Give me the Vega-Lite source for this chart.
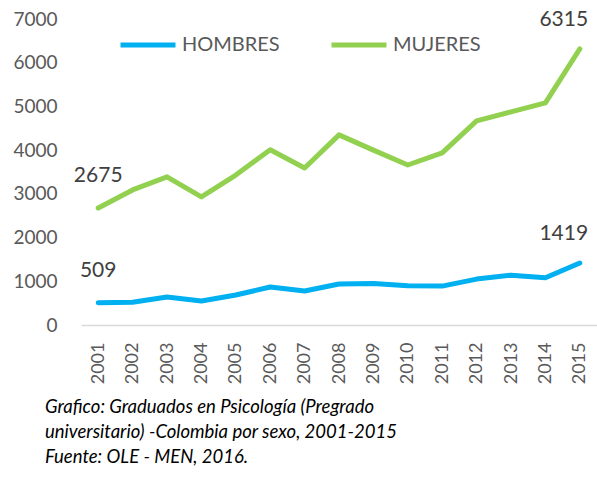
{
  "$schema": "https://vega.github.io/schema/vega-lite/v6.json",
  "autosize": {"type": "none"},
  "padding": {"left": 81, "top": 19, "right": 0, "bottom": 176},
  "width": 516,
  "height": 306,
  "background": "white",
  "config": {"view": {"stroke": null}, "font": "Lato"},
  "title": {
    "text": ["Grafico: Graduados  en Psicología (Pregrado", "universitario) -Colombia por sexo, 2001-2015", "Fuente: OLE - MEN, 2016."],
    "orient": "bottom",
    "anchor": "start",
    "frame": "group",
    "dx": -36,
    "offset": 14,
    "font": "Lato",
    "fontSize": 18.5,
    "fontStyle": "italic",
    "fontWeight": "normal",
    "color": "#000000",
    "lineHeight": 25
  },
  "data": {
    "values": [
      {"year": "2001", "sexo": "HOMBRES", "v": 509},
      {"year": "2002", "sexo": "HOMBRES", "v": 520},
      {"year": "2003", "sexo": "HOMBRES", "v": 640},
      {"year": "2004", "sexo": "HOMBRES", "v": 550},
      {"year": "2005", "sexo": "HOMBRES", "v": 686},
      {"year": "2006", "sexo": "HOMBRES", "v": 869},
      {"year": "2007", "sexo": "HOMBRES", "v": 778},
      {"year": "2008", "sexo": "HOMBRES", "v": 938},
      {"year": "2009", "sexo": "HOMBRES", "v": 950},
      {"year": "2010", "sexo": "HOMBRES", "v": 900},
      {"year": "2011", "sexo": "HOMBRES", "v": 890},
      {"year": "2012", "sexo": "HOMBRES", "v": 1050},
      {"year": "2013", "sexo": "HOMBRES", "v": 1140},
      {"year": "2014", "sexo": "HOMBRES", "v": 1080},
      {"year": "2015", "sexo": "HOMBRES", "v": 1419},
      {"year": "2001", "sexo": "MUJERES", "v": 2675},
      {"year": "2002", "sexo": "MUJERES", "v": 3090},
      {"year": "2003", "sexo": "MUJERES", "v": 3390},
      {"year": "2004", "sexo": "MUJERES", "v": 2930},
      {"year": "2005", "sexo": "MUJERES", "v": 3430},
      {"year": "2006", "sexo": "MUJERES", "v": 4010},
      {"year": "2007", "sexo": "MUJERES", "v": 3590},
      {"year": "2008", "sexo": "MUJERES", "v": 4350},
      {"year": "2009", "sexo": "MUJERES", "v": 4000},
      {"year": "2010", "sexo": "MUJERES", "v": 3660},
      {"year": "2011", "sexo": "MUJERES", "v": 3936},
      {"year": "2012", "sexo": "MUJERES", "v": 4670},
      {"year": "2013", "sexo": "MUJERES", "v": 4875},
      {"year": "2014", "sexo": "MUJERES", "v": 5080},
      {"year": "2015", "sexo": "MUJERES", "v": 6315}
    ]
  },
  "encoding": {
    "x": {
      "field": "year", "type": "ordinal",
      "scale": {"type": "point", "padding": 0.5},
      "axis": {
        "title": null, "labelAngle": -90, "ticks": false, "domainColor": "#d9d9d9", "domainWidth": 1.5,
        "labelFontSize": 18, "labelColor": "#595959", "labelPadding": 17
      }
    },
    "y": {
      "field": "v", "type": "quantitative",
      "scale": {"domain": [0, 7000], "nice": false},
      "axis": {
        "title": null, "values": [0, 1000, 2000, 3000, 4000, 5000, 6000, 7000], "format": "d", "grid": false, "domain": false, "ticks": false,
        "labelFontSize": 19, "labelColor": "#595959", "labelPadding": 24
      }
    }
  },
  "layer": [
    {
      "mark": {"type": "line", "strokeWidth": 5, "strokeCap": "round", "strokeJoin": "round"},
      "encoding": {
        "color": {
          "field": "sexo", "type": "nominal",
          "scale": {"domain": ["HOMBRES", "MUJERES"], "range": ["#00B0F0", "#92D050"]},
          "legend": {
            "title": null, "orient": "none", "direction": "horizontal", "legendX": 37, "legendY": -4,
            "symbolType": "stroke", "symbolSize": 3025, "symbolStrokeWidth": 5,
            "labelFontSize": 20, "labelColor": "#595959", "labelOffset": 4, "columnPadding": 41
          }
        }
      }
    },
    {
      "transform": [{"filter": "datum.year == '2001'"}],
      "mark": {"type": "text", "dy": -32, "fontSize": 21, "color": "#404040"},
      "encoding": {"text": {"field": "v", "type": "quantitative"}}
    },
    {
      "transform": [{"filter": "datum.year == '2015'"}],
      "mark": {"type": "text", "dy": -29, "dx": -16, "fontSize": 21, "color": "#404040"},
      "encoding": {"text": {"field": "v", "type": "quantitative"}}
    }
  ]
}
